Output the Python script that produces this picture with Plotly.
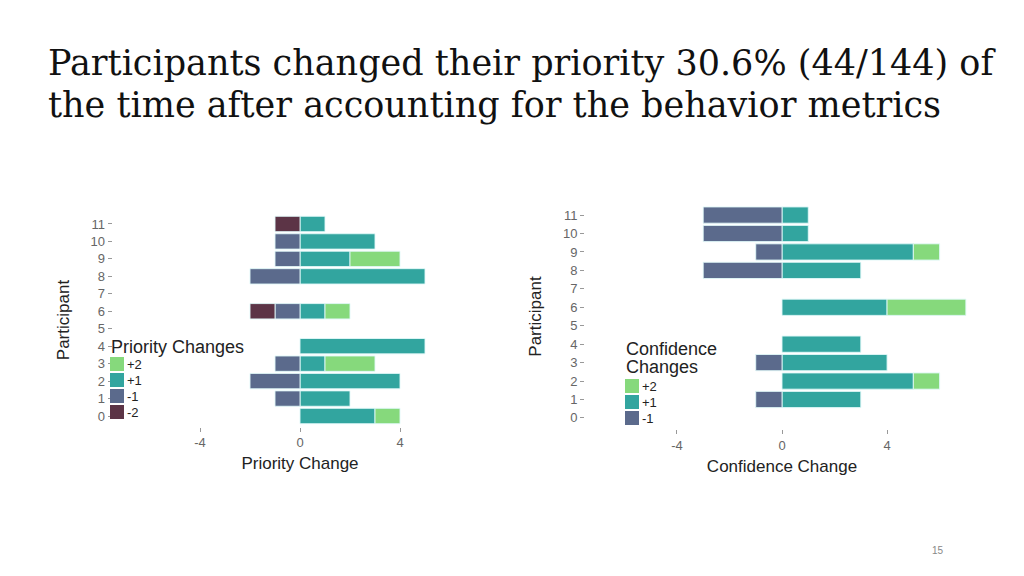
import plotly.graph_objects as go

participants = list(range(12))

# Priority change counts per participant (0..11)
prio_plus2 = [1, 0, 0, 2, 0, 0, 1, 0, 0, 2, 0, 0]
prio_plus1 = [3, 2, 4, 1, 5, 0, 1, 0, 5, 2, 3, 1]
prio_minus1 = [0, 1, 2, 1, 0, 0, 1, 0, 2, 1, 1, 0]
prio_minus2 = [0, 0, 0, 0, 0, 0, 1, 0, 0, 0, 0, 1]

# Confidence change counts per participant (0..11)
conf_plus2 = [0, 0, 1, 0, 0, 0, 3, 0, 0, 1, 0, 0]
conf_plus1 = [0, 3, 5, 4, 3, 0, 4, 0, 3, 5, 1, 1]
conf_minus1 = [0, 1, 0, 1, 0, 0, 0, 0, 3, 1, 3, 3]

x_ticks = [-4, 0, 4]
prio_legend = ["+2", "+1", "-1", "-2"]
conf_legend = ["+2", "+1", "-1"]
title_lines = ["Participants changed their priority 30.6% (44/144) of",
               "the time after accounting for the behavior metrics"]

colors = {"+2": "#86d97c", "+1": "#32a59f", "-1": "#5b6a8c", "-2": "#5c3446"}
FONT = "Liberation Sans"
OFF = 8  # page body margin offset


def px(x):
    return (x - OFF) / 1024


def py(y):
    return 1 - (y - OFF) / 576


fig = go.Figure()


def add(vals, label, sign, xa, ya):
    fig.add_trace(go.Bar(
        y=participants, x=[sign * v if v else None for v in vals], orientation="h",
        name=label, showlegend=False,
        marker=dict(color=colors[label], line=dict(color="rgba(225,248,248,0.9)", width=1)),
        width=0.88, xaxis=xa, yaxis=ya,
    ))


add(prio_plus1, "+1", 1, "x", "y")
add(prio_plus2, "+2", 1, "x", "y")
add(prio_minus1, "-1", -1, "x", "y")
add(prio_minus2, "-2", -1, "x", "y")

add(conf_plus1, "+1", 1, "x2", "y2")
add(conf_plus2, "+2", 1, "x2", "y2")
add(conf_minus1, "-1", -1, "x2", "y2")

axis_common = dict(showgrid=False, zeroline=False, showline=False, ticks="outside", automargin=False,
                   ticklen=4, tickcolor="#999", tickfont=dict(family=FONT, size=13, color="#666"))
title_font = dict(family=FONT, size=17, color="#222")
x_ticktext = [str(v) for v in x_ticks]

shapes = []
annotations = []


def legend(x0, y_title_lines, title_parts, items_y0, labels):
    for i, t in enumerate(title_parts):
        annotations.append(dict(text=t, xref="paper", yref="paper", x=px(x0 - 1), y=py(y_title_lines[i]),
                                xanchor="left", yanchor="middle", showarrow=False,
                                font=dict(family=FONT, size=18, color="#222")))
    for i, lab in enumerate(labels):
        yc = items_y0 + i * 16
        shapes.append(dict(type="rect", xref="paper", yref="paper",
                           x0=px(x0), x1=px(x0 + 14), y0=py(yc - 7), y1=py(yc + 7),
                           fillcolor=colors[lab], line=dict(width=0)))
        annotations.append(dict(text=lab, xref="paper", yref="paper", x=px(x0 + 15), y=py(yc),
                                xanchor="left", yanchor="middle", showarrow=False,
                                font=dict(family=FONT, size=13, color="#222")))


legend(110, [347], ["Priority Changes"], 364, prio_legend)
legend(625, [349, 367], ["Confidence", "Changes"], 386, conf_legend)

for i, line in enumerate(title_lines):
    annotations.append(dict(
        text=line, xref="paper", yref="paper", x=px(46), y=py(63 + 42 * i),
        xanchor="left", yanchor="middle", align="left", showarrow=False,
        font=dict(family="DejaVu Serif", size=35, color="#111")))
annotations.append(dict(text="15", xref="paper", yref="paper", x=px(938), y=py(550),
                        xanchor="center", yanchor="middle", showarrow=False,
                        font=dict(family=FONT, size=10, color="#888")))

fig.update_layout(
    width=1024, height=576, margin=dict(l=0, r=0, t=0, b=0),
    paper_bgcolor="white", plot_bgcolor="white",
    barmode="relative", showlegend=False,
    font=dict(family=FONT),
    xaxis=dict(domain=[px(112.5), px(487.5)], range=[-7.5, 7.5], tickvals=x_ticks, ticktext=x_ticktext,
               anchor="y", title=dict(text="Priority Change", font=title_font, standoff=8), **axis_common),
    yaxis=dict(domain=[py(426.5), py(213.5)], range=[-0.6, 11.6], tickvals=participants, anchor="x",
               title=dict(text="Participant", font=title_font, standoff=16), **axis_common),
    xaxis2=dict(domain=[px(585), px(979)], range=[-7.5, 7.5], tickvals=x_ticks, ticktext=x_ticktext,
                anchor="y2", title=dict(text="Confidence Change", font=title_font, standoff=8), **axis_common),
    yaxis2=dict(domain=[py(429), py(204)], range=[-0.6, 11.6], tickvals=participants, anchor="x2",
                title=dict(text="Participant", font=title_font, standoff=16), **axis_common),
    shapes=shapes,
    annotations=annotations,
)

fig.write_html("out.html")
